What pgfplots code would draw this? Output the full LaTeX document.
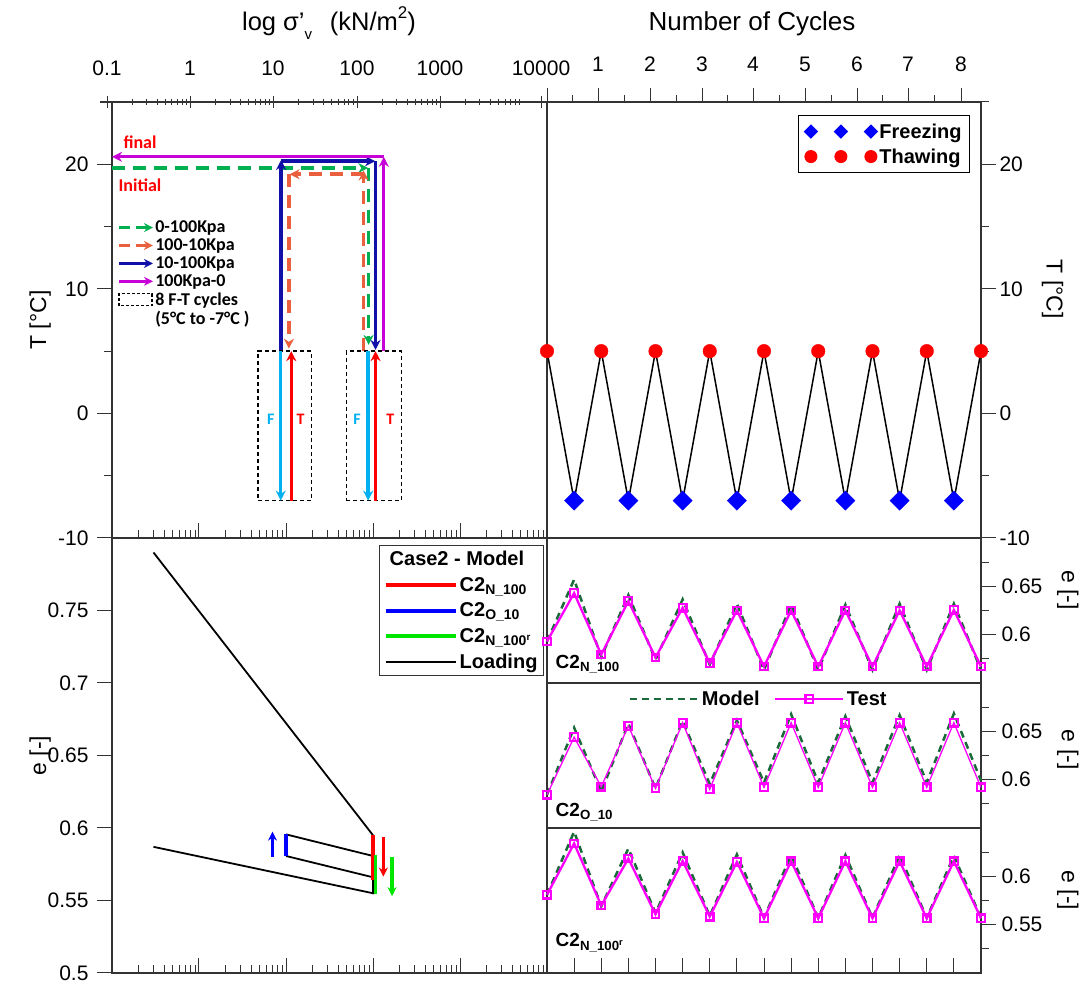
\documentclass[border=0pt]{standalone}
\usepackage{pgfplots}
\pgfplotsset{compat=1.18}
\usepackage{fontspec}
\setmainfont{Liberation Sans}
\newfontfamily\calfont{Carlito}
\usetikzlibrary{arrows.meta}
\definecolor{cgreen}{HTML}{00B050}
\definecolor{corange}{HTML}{EA5F3E}
\definecolor{cdblue}{HTML}{1010A8}
\definecolor{cmag}{HTML}{C800D8}
\definecolor{ccyan}{HTML}{00B0F0}
\definecolor{mgreen}{HTML}{1B6B3A}
\definecolor{axgray}{HTML}{333333}
\definecolor{lgreen}{HTML}{00E600}
\definecolor{tmag}{HTML}{FF00FF}

\pgfplotsset{
  base/.style={
    scale only axis, anchor=south west,
    axis line style={axgray, line width=1.1pt},
    tick style={axgray, line width=1pt},
    tick align=outside,
    major tick length=15pt, minor tick length=8pt,
    major x tick style={yshift=15pt},
    minor x tick style={yshift=8pt},
    /pgf/number format/assume math mode=true,
    tick label style={font=\fontsize{21}{25}\selectfont},
    label style={font=\fontsize{23}{27}\selectfont},
    clip=false,
  },
  logminor/.style={minor xtick={0.2,0.3,0.4,0.5,0.6,0.7,0.8,0.9,2,3,4,5,6,7,8,9,20,30,40,50,60,70,80,90,200,300,400,500,600,700,800,900,2000,3000,4000,5000,6000,7000,8000,9000}},
  arrowleg/.style={legend image code/.code={\draw[##1, -{Stealth[length=9pt,width=9pt]}] (0pt,0pt) -- (34pt,0pt);}},
  boxleg/.style={legend image code/.code={\draw[##1] (0pt,-6pt) rectangle (33pt,6pt);}},
  lineleg/.style={legend image code/.code={\draw[##1] (0pt,0pt) -- (#1,0pt);}},
  threemarks/.style={legend image code/.code={\draw[##1, mark size=#1] plot coordinates {(0pt,0pt) (30pt,0pt) (60pt,0pt)};}},
  testleg/.style={legend image code/.code={\draw[mark repeat=2, mark phase=2, ##1] plot coordinates {(0pt,0pt) (34pt,0pt) (68pt,0pt)};}},
  arr/.style={-{Stealth[length=10pt,width=10pt]}, forget plot},
}

\begin{document}
\begin{tikzpicture}
\path[use as bounding box] (0pt,0pt) rectangle (1088pt,987pt);

% ---------------- titles ----------------
\node[font=\fontsize{25.5}{30}\selectfont] at (329pt,964pt) {log σ'\raisebox{-0.35em}{\fontsize{15}{18}\selectfont v}\hspace{0.7em}(kN/m\raisebox{0.45em}{\fontsize{17}{20}\selectfont 2})};
\node[font=\fontsize{26}{30}\selectfont] at (752pt,963pt) {Number of Cycles};

% ---------------- top scale overlays ----------------
\begin{axis}[scale only axis, anchor=north west, at={(100pt,885pt)}, width=447pt, height=10pt,
  xmin=100, xmax=547, ymin=0, ymax=1,
  hide y axis, axis x line*=top, axis line style={axgray, line width=1.1pt, -},
  tick style={axgray, line width=1pt}, tick align=center,
  major tick length=12pt, minor tick length=6pt,
  xtick={107,190,273,357,440,541}, xticklabels={0.1,1,10,100,1000,10000},
  minor xtick={132.1,146.7,157.1,165.2,171.8,177.4,182.2,186.5,215.4,230,240.4,248.5,255.1,260.7,265.5,269.8,298.7,313.3,323.7,331.8,338.4,344,348.8,353.1,382,396.6,407,415.1,421.7,427.3,432.1,436.4,465.3,479.9,490.3,498.4,505,510.6,515.4,519.7},
  /pgf/number format/assume math mode=true,
  xticklabel style={font=\fontsize{21}{25}\selectfont, yshift=17pt},
]
\end{axis}
\begin{axis}[scale only axis, anchor=north west, at={(547pt,885pt)}, width=420pt, height=10pt,
  xmin=547, xmax=967, ymin=0, ymax=1,
  hide y axis, axis x line*=top, axis line style={axgray, line width=1.1pt, -},
  tick style={axgray, line width=1pt}, tick align=outside,
  major tick length=14pt, minor tick length=7pt,
  xtick={547,598,650,702,753,805,857,908,961}, xticklabels={,1,2,3,4,5,6,7,8},
  minor xtick={572,624,676,727.5,779,831,882.5,934.5},
  /pgf/number format/assume math mode=true,
  xticklabel style={font=\fontsize{21}{25}\selectfont, yshift=13pt},
]
\end{axis}

% ---------------- top-left: T vs log sigma ----------------
\begin{axis}[base, at={(112pt,449pt)}, width=435pt, height=436pt,
  xmode=log, xmin=0.1, xmax=10000, ymin=-10, ymax=25,
  xtick={0.1,1,10,100,1000,10000}, xticklabel=\empty,
  logminor, xtick pos=lower,
  ytick={-10,0,10,20}, minor ytick={-5,5,15,25}, ytick pos=left,
  yticklabel style={xshift=-5pt},
  ylabel={T [°C]}, ylabel style={at={(axis description cs:-0.165,0.5)}, anchor=center},
  legend style={at={(axis description cs:0.0115,0.729)}, anchor=north west, draw=none, fill=none,
    font=\calfont\bfseries\fontsize{18}{20}\selectfont, row sep=3.4pt, inner sep=0pt, nodes={inner sep=0.6pt}},
  legend cell align=left,
]
\addplot[cgreen, line width=3.5pt, dash pattern=on 13pt off 8pt, arr] coordinates {(0.1,19.7) (88,19.7)};
\addplot[cgreen, line width=3.5pt, dash pattern=on 13pt off 8pt, arr] coordinates {(89,19.7) (89,5.5)};
\addplot[corange, line width=3.5pt, dash pattern=on 13pt off 8pt, arr] coordinates {(78,5) (78,19.5)};
\addplot[corange, line width=3.5pt, dash pattern=on 13pt off 8pt, arr] coordinates {(78,19.2) (11,19.2)};
\addplot[corange, line width=3.5pt, dash pattern=on 13pt off 8pt, arr] coordinates {(10.8,19.2) (10.8,5.2)};
\addplot[cdblue, line width=3.5pt, arr] coordinates {(8.8,5) (8.8,20.35)};
\addplot[cdblue, line width=3.5pt, arr] coordinates {(8.8,20.25) (106,20.25)};
\addplot[cdblue, line width=3.5pt, arr] coordinates {(107,20.25) (107,5.1)};
\addplot[cmag, line width=3pt, arr] coordinates {(133,5) (133,20.6)};
\addplot[cmag, line width=3pt, arr] coordinates {(133,20.6) (0.1,20.6)};
\addplot[black, line width=1.3pt, dash pattern=on 4pt off 3pt, forget plot] coordinates {(4.77,-7) (19.5,-7) (19.5,5) (4.77,5) (4.77,-7)};
\addplot[black, line width=1.3pt, dash pattern=on 4pt off 3pt, forget plot] coordinates {(49.5,-7) (212,-7) (212,5) (49.5,5) (49.5,-7)};
\addplot[ccyan, line width=3.5pt, arr] coordinates {(8.7,5) (8.7,-7)};
\addplot[ccyan, line width=3.5pt, arr] coordinates {(88,5) (88,-7)};
\addplot[red, line width=3.5pt, arr] coordinates {(11.5,-7) (11.5,5)};
\addplot[red, line width=3.5pt, arr] coordinates {(107,-7) (107,5)};

\node[ccyan, font=\calfont\bfseries\fontsize{16}{18}\selectfont] at (axis cs:6.7,-0.5) {F};
\node[red, font=\calfont\bfseries\fontsize{16}{18}\selectfont] at (axis cs:14.7,-0.5) {T};
\node[ccyan, font=\calfont\bfseries\fontsize{16}{18}\selectfont] at (axis cs:65.7,-0.5) {F};
\node[red, font=\calfont\bfseries\fontsize{16}{18}\selectfont] at (axis cs:158,-0.5) {T};
\node[red, font=\calfont\bfseries\fontsize{18}{20}\selectfont] at (axis cs:0.21,21.8) {final};
\node[red, font=\calfont\bfseries\fontsize{18}{20}\selectfont] at (axis cs:0.21,18.3) {Initial};

\addlegendimage{cgreen, line width=3.5pt, dash pattern=on 11pt off 6pt, arrowleg}
\addlegendentry{0-100Kpa}
\addlegendimage{corange, line width=3.5pt, dash pattern=on 11pt off 6pt, arrowleg}
\addlegendentry{100-10Kpa}
\addlegendimage{cdblue, line width=3pt, arrowleg}
\addlegendentry{10-100Kpa}
\addlegendimage{cmag, line width=3pt, arrowleg}
\addlegendentry{100Kpa-0}
\addlegendimage{black, line width=1.2pt, dash pattern=on 3pt off 2pt, boxleg}
\addlegendentry{8 F-T cycles}
\addlegendimage{empty legend}
\addlegendentry{(5°C to -7°C )}
\end{axis}

% ---------------- top-right: T vs cycles ----------------
\begin{axis}[base, at={(547pt,449pt)}, width=434pt, height=436pt,
  xmin=0, xmax=8, ymin=-10, ymax=25, xtick=\empty,
  ytick={-10,0,10,20}, minor ytick={-5,5,15,25}, ytick pos=right, yticklabel pos=right,
  ylabel={T [°C]}, ylabel style={at={(axis description cs:1.165,0.57)}, anchor=center, rotate=180},
  legend style={at={(axis description cs:0.975,0.97)}, anchor=north east, draw=black, line width=1pt,
    font=\bfseries\fontsize{20}{24}\selectfont, row sep=5pt, inner sep=6pt, nodes={inner sep=2pt}},
  legend cell align=left,
]
\addplot[black, line width=1.5pt, forget plot] coordinates {
(0,5) (0.5,-7) (1,5) (1.5,-7) (2,5) (2.5,-7) (3,5) (3.5,-7) (4,5) (4.5,-7) (5,5) (5.5,-7) (6,5) (6.5,-7) (7,5) (7.5,-7) (8,5)};
\addplot[only marks, blue, mark=square*, mark size=6.8pt, mark options={rotate=45, fill=blue, draw=blue}, threemarks=4.6pt] coordinates {
(0.5,-7) (1.5,-7) (2.5,-7) (3.5,-7) (4.5,-7) (5.5,-7) (6.5,-7) (7.5,-7)};
\addlegendentry{Freezing}
\addplot[only marks, red, mark=*, mark size=6.8pt, mark options={fill=red, draw=red}, threemarks=6pt] coordinates {
(0,5) (1,5) (2,5) (3,5) (4,5) (5,5) (6,5) (7,5) (8,5)};
\addlegendentry{Thawing}
\end{axis}

% ---------------- bottom-left: e vs log sigma ----------------
\begin{axis}[base, at={(112pt,14pt)}, width=435pt, height=435pt,
  xmode=log, xmin=0.1, xmax=10000, ymin=0.5, ymax=0.8,
  xtick={0.1,1,10,100,1000,10000}, xticklabel=\empty,
  logminor, xtick pos=lower,
  ytick={0.5,0.55,0.6,0.65,0.7,0.75}, ytick pos=left,
  yticklabel style={xshift=-5pt},
  ylabel={e [-]}, ylabel style={at={(axis description cs:-0.165,0.5)}, anchor=center},
  legend style={at={(axis description cs:0.993,0.984)}, anchor=north east, draw=axgray, line width=1pt,
    font=\bfseries\fontsize{20}{24}\selectfont, row sep=6pt, inner sep=4pt, nodes={inner sep=2pt}},
  legend cell align=left,
]
\addplot[black, line width=1.8pt, forget plot] coordinates {(0.3,0.790) (100,0.595)};
\addplot[black, line width=1.8pt, forget plot] coordinates {(10,0.5956) (100,0.5807)};
\addplot[black, line width=1.8pt, forget plot] coordinates {(10,0.5807) (100,0.566)};
\addplot[black, line width=1.8pt, forget plot] coordinates {(0.3,0.587) (100,0.555) (100,0.566)};
\addplot[red, line width=3.5pt, forget plot] coordinates {(100,0.595) (100,0.564)};
\addplot[lgreen, line width=3.5pt, forget plot] coordinates {(107,0.5814) (107,0.5543)};
\addplot[blue, line width=3.5pt, forget plot] coordinates {(10,0.5956) (10,0.5807)};
\addplot[blue, line width=3.5pt, -{Stealth[length=9pt,width=9pt]}, forget plot] coordinates {(7,0.580) (7,0.5975)};
\addplot[red, line width=3.5pt, -{Stealth[length=9pt,width=9pt]}, forget plot] coordinates {(131.5,0.5935) (131.5,0.5665)};
\addplot[lgreen, line width=3.5pt, -{Stealth[length=9pt,width=9pt]}, forget plot] coordinates {(165.6,0.580) (165.6,0.553)};

\addlegendimage{empty legend}
\addlegendentry{\makebox[0pt][l]{\hspace*{-70pt}Case2 - Model}}
\addlegendimage{red, line width=4pt, lineleg=70pt}
\addlegendentry{C2\textsubscript{N\_100}}
\addlegendimage{blue, line width=4pt, lineleg=70pt}
\addlegendentry{C2\textsubscript{O\_10}}
\addlegendimage{lgreen, line width=4pt, lineleg=70pt}
\addlegendentry{C2\textsubscript{N\_100\textsuperscript{r}}}
\addlegendimage{black, line width=1.8pt, lineleg=70pt}
\addlegendentry{Loading}
\end{axis}

% ---------------- bottom-right 1: C2 N_100 ----------------
\begin{axis}[base, at={(547pt,304pt)}, width=434pt, height=145pt,
  xmin=0, xmax=8, ymin=0.55, ymax=0.70, xtick=\empty,
  ytick={0.6,0.65}, minor ytick={0.575,0.625,0.675}, ytick pos=right, yticklabel pos=right,
  yticklabel style={xshift=2pt},
  ylabel={e [-]}, ylabel style={at={(axis description cs:1.20,0.64)}, anchor=center, rotate=180},
]
\addplot[mgreen, line width=2.5pt, dash pattern=on 7pt off 5pt] coordinates {
(0,0.593) (0.5,0.657) (1,0.577) (1.5,0.641) (2,0.574) (2.5,0.6365) (3,0.569) (3.5,0.632) (4,0.5635) (4.5,0.631) (5,0.5635) (5.5,0.631) (6,0.5635) (6.5,0.632) (7,0.5635) (7.5,0.632) (8,0.5635)};
\addplot[tmag, line width=2.3pt, mark=square, mark size=3.8pt, mark options={line width=2.2pt, fill=white}] coordinates {
(0,0.593) (0.5,0.643) (1,0.5795) (1.5,0.6347) (2,0.5764) (2.5,0.6278) (3,0.5705) (3.5,0.625) (4,0.567) (4.5,0.625) (5,0.567) (5.5,0.625) (6,0.567) (6.5,0.625) (7,0.567) (7.5,0.6255) (8,0.567)};
\node[anchor=west, font=\bfseries\fontsize{19}{22}\selectfont] at (axis description cs:0.012,0.13) {C2\textsubscript{N\_100}};
\end{axis}

% ---------------- bottom-right 2: C2 O_10 ----------------
\begin{axis}[base, at={(547pt,159pt)}, width=434pt, height=145pt,
  xmin=0, xmax=8, ymin=0.55, ymax=0.70, xtick=\empty,
  ytick={0.6,0.65}, minor ytick={0.575,0.625,0.675}, ytick pos=right, yticklabel pos=right,
  yticklabel style={xshift=2pt},
  ylabel={e [-]}, ylabel style={at={(axis description cs:1.20,0.54)}, anchor=center, rotate=180},
  legend style={at={(axis description cs:0.187,0.89)}, anchor=west, draw=none, fill=none,
    font=\bfseries\fontsize{20}{24}\selectfont, inner sep=0pt, nodes={inner sep=3pt},
    /tikz/every even column/.append style={column sep=12pt}},
  legend columns=2,
]
\addplot[mgreen, line width=2.5pt, dash pattern=on 7pt off 5pt, lineleg=68pt] coordinates {
(0,0.5844) (0.5,0.6538) (1,0.5878) (1.5,0.658) (2,0.591) (2.5,0.6607) (3,0.5955) (3.5,0.6614) (4,0.597) (4.5,0.6677) (5,0.597) (5.5,0.6656) (6,0.597) (6.5,0.6667) (7,0.597) (7.5,0.6684) (8,0.599)};
\addlegendentry{Model}
\addplot[tmag, line width=1.3pt, mark=square, mark size=3.8pt, mark options={line width=2.2pt, fill=white}, testleg] coordinates {
(0,0.5844) (0.5,0.644) (1,0.5927) (1.5,0.6556) (2,0.591) (2.5,0.659) (3,0.590) (3.5,0.659) (4,0.592) (4.5,0.659) (5,0.592) (5.5,0.659) (6,0.592) (6.5,0.659) (7,0.592) (7.5,0.659) (8,0.592)};
\addlegendentry{Test}
\node[anchor=west, font=\bfseries\fontsize{19}{22}\selectfont] at (axis description cs:0.012,0.11) {C2\textsubscript{O\_10}};
\end{axis}

% ---------------- bottom-right 3: C2 N_100r ----------------
\begin{axis}[base, at={(547pt,14pt)}, width=434pt, height=145pt,
  xmin=0, xmax=8, ymin=0.50, ymax=0.65,
  xtick={0,0.5,...,8}, xticklabel=\empty, xtick pos=lower,
  ytick={0.55,0.6}, minor ytick={0.525,0.575,0.625}, ytick pos=right, yticklabel pos=right,
  yticklabel style={xshift=2pt},
  ylabel={e [-]}, ylabel style={at={(axis description cs:1.20,0.57)}, anchor=center, rotate=180},
]
\addplot[mgreen, line width=2.5pt, dash pattern=on 7pt off 5pt] coordinates {
(0,0.5809) (0.5,0.6462) (1,0.569) (1.5,0.6288) (2,0.562) (2.5,0.6247) (3,0.559) (3.5,0.6226) (4,0.557) (4.5,0.622) (5,0.557) (5.5,0.622) (6,0.557) (6.5,0.622) (7,0.557) (7.5,0.6212) (8,0.557)};
\addplot[tmag, line width=2.3pt, mark=square, mark size=3.8pt, mark options={line width=2.2pt, fill=white}] coordinates {
(0,0.5809) (0.5,0.634) (1,0.5698) (1.5,0.6184) (2,0.5607) (2.5,0.616) (3,0.5583) (3.5,0.6149) (4,0.5566) (4.5,0.6156) (5,0.5566) (5.5,0.6156) (6,0.5566) (6.5,0.6156) (7,0.5566) (7.5,0.6156) (8,0.5566)};
\node[anchor=west, font=\bfseries\fontsize{19}{22}\selectfont] at (axis description cs:0.012,0.207) {C2\textsubscript{N\_100\textsuperscript{r}}};
\end{axis}
\end{tikzpicture}
\end{document}
